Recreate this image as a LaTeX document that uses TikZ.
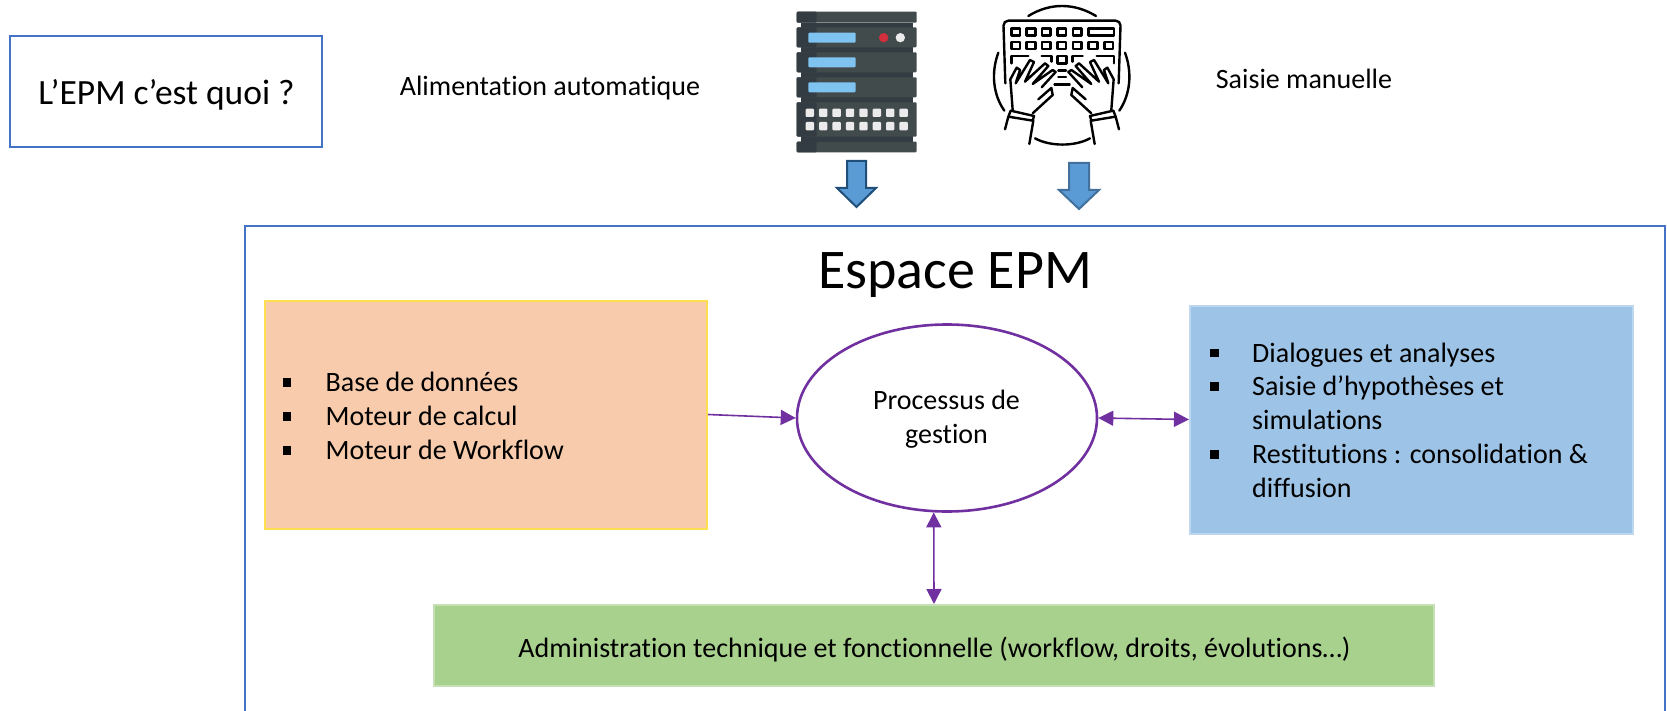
\documentclass[tikz,border=0pt]{standalone}
\usepackage{fontspec}
\setmainfont{Carlito}[Ligatures=NoCommon]
\usepackage{xcolor}
\usetikzlibrary{arrows.meta,shapes.geometric}
\definecolor{cadreBleu}{HTML}{4472C4}
\definecolor{violet}{HTML}{7030A0}
\definecolor{serveurA}{HTML}{424B4C}
\definecolor{serveurB}{HTML}{343C43}
\definecolor{ecran}{HTML}{7FC4F0}
\definecolor{voyant}{HTML}{D32F3C}
\definecolor{touche}{HTML}{EBEBEB}
\definecolor{flecheFond}{HTML}{5B9BD5}
\newcommand{\puce}{\raisebox{5pt}{\rule{8.5pt}{8.5pt}}}
\tikzset{
    bloc/.style={draw,line width=2pt,inner sep=0pt},
    liste/.style={anchor=west,inner sep=0pt,font=\fontsize{28}{33.8}\selectfont},
    texte/.style={inner sep=0pt,align=center,font=\fontsize{28}{33.8}\selectfont},
    lien/.style={violet,line width=1.6pt,{Triangle[width=15pt,length=15pt]}-{Triangle[width=15pt,length=15pt]}},
    lienSimple/.style={violet,line width=1.6pt,-{Triangle[width=15pt,length=15pt]}},
    fleche/.style={fill=flecheFond,line width=2pt,line join=miter},
    trait/.style={line width=2.4pt,line cap=round,line join=round,black}
}
\begin{document}
\begin{tikzpicture}[x=1pt,y=-1pt]
        \path[use as bounding box] (0,0) rectangle (1667,711);
        \node[draw=cadreBleu,line width=2pt,minimum width=312pt,minimum height=111pt,inner sep=0pt] (titre) at (166,91.5) {};
        \node[inner sep=0pt,font=\fontsize{35.5}{40}\selectfont] at (166.5,94.5) {L’EPM c’est quoi ?};
        \node[texte] (auto) at (550,88) {Alimentation automatique};
        \node[texte] (manuel) at (1304,79) {Saisie manuelle};
        \draw[cadreBleu,line width=2pt] (244.5,715) -- (244.5,226.5) -- (1665,226.5) -- (1665,715);
        \node[inner sep=0pt,font=\fontsize{56}{60}\selectfont] (espace) at (955,275) {Espace EPM};

        \node[bloc,draw=white!40!yellow!80!orange,fill={rgb,255:red,247;green,203;blue,172},minimum width=442pt,minimum height=228pt] (orange) at (486,414.5) {};
        \node[bloc,draw={rgb,255:red,189;green,215;blue,238},fill={rgb,255:red,157;green,195;blue,230},minimum width=443pt,minimum height=228pt] (bleu) at (1411.5,419.5) {};
        \node[bloc,draw={rgb,255:red,197;green,224;blue,180},fill={rgb,255:red,169;green,209;blue,142},minimum width=1000pt,minimum height=81pt] (vert) at (934,645.5) {};
        \node[draw=violet,line width=2.6pt,ellipse,fill=white,minimum width=300pt,minimum height=187pt,inner sep=0pt] (processus) at (947,418) {};

        \node[texte] at (946.5,419) {Processus de\\gestion};
        \node[texte] at (934.5,650) {Administration technique et fonctionnelle (workflow, droits, évolutions…)};
        \node[liste] (listeA) at (282.5,419)
        {
            \begin{tabular}{@{}p{43pt}@{}l@{}}
                \puce & Base de données \\
                \puce & Moteur de calcul \\
                \puce & Moteur de Workflow \\
            \end{tabular}
        };
        \node[liste] (listeB) at (1210,423)
        {
            \begin{tabular}{@{}p{42pt}@{}l@{}}
                \puce & Dialogues et analyses \\
                \puce & Saisie d’hypothèses et \\
                 & simulations \\
                \puce & Restitutions : consolidation \& \\
                 & diffusion \\
            \end{tabular}
        };

        \draw[lienSimple] (orange.east) -- (processus.west);
        \draw[lien] (processus.east) -- (bleu.west);
        \draw[lien] (processus.262) -- (vert.north);

        \begin{scope}[shift={(770,0)},x=0.3333pt,y=-0.3333pt]
            \fill[serveurA,rounded corners=1pt] (80,35) rectangle (440,68);
            \fill[serveurB,rounded corners=1pt] (80,35) rectangle (140,68);
            \fill[serveurA,rounded corners=1pt] (80,425) rectangle (440,457);
            \fill[serveurB,rounded corners=1pt] (80,425) rectangle (140,457);
            \fill[serveurB] (92,68) rectangle (428,425);
            \foreach \y/\h in {82/60,157/60,232/60,307/103}
            {
                \fill[serveurA,rounded corners=1pt] (80,\y) rectangle (440,\y+\h);
                \fill[serveurB,rounded corners=1pt] (80,\y) rectangle (140,\y+\h);
            }
            \foreach \y in {98,172,247}
                \fill[ecran,rounded corners=1pt] (115,\y) rectangle (257,\y+30);
            \fill[voyant] (341,113) circle (14);
            \fill[touche] (391,113) circle (14);
            \foreach \c in {0,...,7}
                \foreach \y in {326,366}
                    \fill[touche,rounded corners=1pt] (107+40.2*\c,\y) rectangle (132+40.2*\c,\y+25);
        \end{scope}

        \begin{scope}[shift={(970,0)},x=0.3333pt,y=-0.3333pt]
            \draw[trait] (175,48) .. controls (240,8) and (312,8) .. (378,48);
            \draw[trait] (85,158) .. controls (62,220) and (70,285) .. (103,332);
            \draw[trait] (465,158) .. controls (488,220) and (480,285) .. (448,332);
            \draw[trait] (195,415) .. controls (240,440) and (315,440) .. (360,415);
            \draw[trait,rounded corners=5pt] (106,250) -- (100,62) -- (452,62) -- (446,250);
            \foreach \x in {137,183,229,275,322}
                \draw[trait] (\x-13,86) rectangle (\x+13,107);
            \draw[trait] (356,86) rectangle (432,107);
            \foreach \x in {137,183,229,275,322,369,416}
                \draw[trait] (\x-13,126) rectangle (\x+13,147);
            \draw[trait] (263,168) rectangle (290,190);
            \draw[trait] (124,190) -- (124,168) -- (175,168);
            \draw[trait] (215,168) -- (245,168) -- (245,185);
            \draw[trait] (308,185) -- (308,168) -- (338,168);
            \draw[trait] (380,168) -- (432,168) -- (432,190);
            \draw[trait] (265,212) -- (288,212);
            \draw[trait] (265,231) -- (288,231);
            \draw[trait] (253,254) -- (300,254);
            \foreach \s/\d in {1/0,-1/552}
            {
                \begin{scope}[shift={(\d,0)},xscale=\s]
                    \fill[white] (125,330) -- (120,235) -- (180,180) -- (250,205) -- (250,285) -- (190,345) -- cycle;
                    \draw[trait] (128,330) -- (121,238) -- (140,203) -- (150,210) -- (137,250) -- (180,180) -- (192,186) -- (165,245) -- (225,190) -- (235,198) -- (188,252) -- (248,210) -- (257,216) -- (215,262);
                    \draw[trait] (188,340) -- (248,285) -- (244,264) -- (205,298);
                    \draw[trait] (122,332) -- (192,348) -- (188,362) -- (115,350) -- cycle;
                    \draw[trait] (115,350) -- (105,388);
                    \draw[trait] (190,362) -- (178,432);
                \end{scope}
            }
        \end{scope}

        \draw[fleche,draw={rgb,255:red,31;green,78;blue,121}] (847,161) -- (866,161) -- (866,188) -- (876,188) -- (856.5,207) -- (837,188) -- (847,188) -- cycle;
        \draw[fleche,draw={rgb,255:red,65;green,113;blue,156}] (1069,163) -- (1089,163) -- (1089,190) -- (1099,190) -- (1079,209) -- (1059,190) -- (1069,190) -- cycle;
    \end{tikzpicture}
\end{document}
